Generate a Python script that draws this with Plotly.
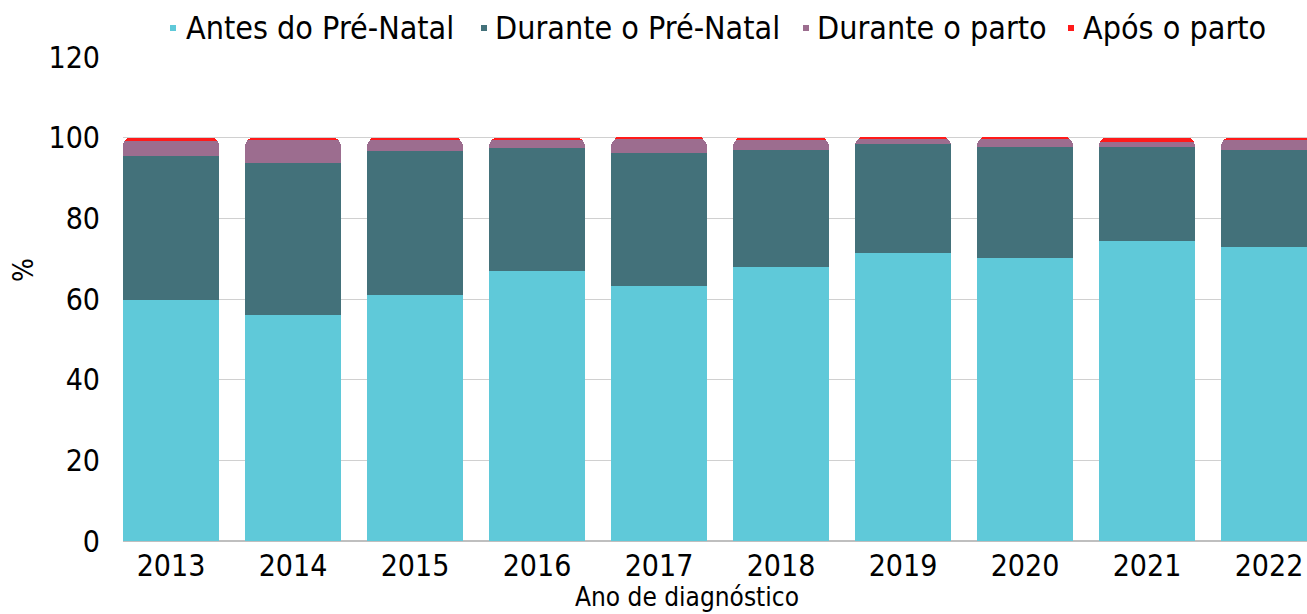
import plotly.graph_objects as go

# Ano de diagnóstico e distribuição (%) do momento do diagnóstico
anos = ["2013", "2014", "2015", "2016", "2017", "2018", "2019", "2020", "2021", "2022"]
antes_pre_natal = [59.8, 56.0, 61.1, 66.9, 63.2, 67.9, 71.4, 70.2, 74.4, 72.9]
durante_pre_natal = [35.7, 37.6, 35.7, 30.5, 33.0, 29.1, 27.0, 27.5, 23.3, 24.1]
durante_parto = [3.7, 5.8, 2.5, 2.0, 3.6, 2.3, 1.3, 2.0, 1.2, 2.4]
apos_parto = [0.8, 0.6, 0.7, 0.6, 0.2, 0.7, 0.3, 0.3, 1.1, 0.6]
y_ticks = [0, 20, 40, 60, 80, 100, 120]

series = [
    ("Antes do Pré-Natal", antes_pre_natal, "#5FC9D9"),
    ("Durante o Pré-Natal", durante_pre_natal, "#43717A"),
    ("Durante o parto", durante_parto, "#9C6D8F"),
    ("Após o parto", apos_parto, "#FF1A1A"),
]

FONT = "DejaVu Sans Condensed, Roboto, sans-serif"

# plot area in pixels
L, R, T, B = 123, 1307, 57, 541
W, H = R - L, B - T


def px_x(px):
    return (px - L) / W


def px_y(py):
    return (B - py) / H


fig = go.Figure()
for name, vals, color in series:
    fig.add_trace(go.Bar(
        x=anos, y=vals, name=name, marker_color=color,
        marker_line_width=0, width=0.787, showlegend=False,
    ))

# legend row: small square key followed by label
legend_pos = [(173, 184), (484, 493), (806, 815), (1071, 1081)]
annotations = []
shapes = []
for (name, _, color), (kx, tx) in zip(series, legend_pos):
    shapes.append(dict(
        type="rect", xref="paper", yref="paper",
        x0=px_x(kx - 3), x1=px_x(kx + 3), y0=px_y(31), y1=px_y(25),
        fillcolor=color, line_width=0, layer="above",
    ))
    annotations.append(dict(
        text=name, xref="paper", yref="paper", x=px_x(tx), y=px_y(28),
        xanchor="left", yanchor="middle", showarrow=False,
        font=dict(size=32, color="black", family=FONT),
    ))

annotations.append(dict(
    text="%", xref="paper", yref="paper", x=px_x(23), y=px_y(270),
    xanchor="center", yanchor="middle", showarrow=False, textangle=-90,
    font=dict(size=28, color="black", family=FONT),
))
annotations.append(dict(
    text="Ano de diagnóstico", xref="paper", yref="paper", x=px_x(687), y=px_y(614),
    xanchor="center", yanchor="bottom", showarrow=False,
    font=dict(size=26, color="black", family=FONT),
))

fig.update_layout(
    width=1307, height=614,
    margin=dict(l=L, r=1307 - R, t=T, b=614 - B),
    barmode="stack",
    barcornerradius=8,
    plot_bgcolor="white", paper_bgcolor="white",
    font=dict(family=FONT, size=30, color="black"),
    showlegend=False,
    annotations=annotations,
    shapes=shapes,
)
fig.update_xaxes(
    type="category", range=[-0.3934, 9.3115],
    showgrid=False, showline=False, ticks="",
    ticklabelstandoff=4,
    tickfont=dict(size=30),
)
fig.update_yaxes(
    range=[0, 120], tickvals=y_ticks,
    showgrid=True, gridcolor="#D0D0D0", gridwidth=1,
    zeroline=True, zerolinecolor="#BFBFBF", zerolinewidth=1.5,
    showline=False, ticks="", ticklabelstandoff=22,
    tickfont=dict(size=30),
)

fig.write_html("out.html")
